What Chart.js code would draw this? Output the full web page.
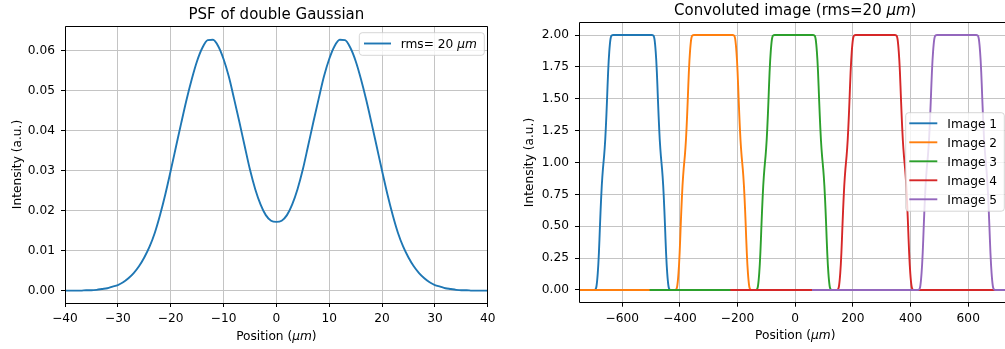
<!DOCTYPE html>
<html><head><meta charset="utf-8">
<script src="https://cdn.jsdelivr.net/npm/chart.js@4.4.1/dist/chart.umd.min.js"></script>
<style>
html,body{margin:0;padding:0;background:#fff;}
#wrap{position:relative;width:1005px;height:349px;overflow:hidden;background:#fff;}
canvas{position:absolute;top:0;}
#c1{left:0;} #c2{left:500px;}
</style></head><body>
<div id="wrap"><canvas id="c1" width="500" height="349"></canvas><canvas id="c2" width="515" height="349"></canvas></div>
<script>
// ---------- Left panel: PSF of double Gaussian ----------
const psfPosition = [-40,-39,-38,-37,-36,-35,-34,-33,-32,-31,-30,-29,-28,-27,-26,-25,-24,-23,-22,-21,-20,-19,-18,-17,-16,-15,-14,-13,-12,-11,-10,-9,-8,-7,-6,-5,-4,-3,-2,-1,0,1,2,3,4,5,6,7,8,9,10,11,12,13,14,15,16,17,18,19,20,21,22,23,24,25,26,27,28,29,30,31,32,33,34,35,36,37,38,39,40];
const psfIntensity = [0.0000,0.0000,0.0000,0.0000,0.0001,0.0001,0.0002,0.0004,0.0006,0.0010,
  0.0014,0.0021,0.0031,0.0044,0.0061,0.0083,0.0110,0.0145,0.0190,0.0242,
  0.0300,0.0360,0.0420,0.0478,0.0530,0.0575,0.0608,0.0627,0.0628,0.0612,
  0.0580,0.0536,0.0480,0.0422,0.0362,0.0303,0.0254,0.0216,0.0189,0.0175,
  0.0172,
  0.0175,0.0189,0.0216,0.0254,0.0303,0.0362,0.0422,0.0480,0.0536,0.0580,
  0.0612,0.0628,0.0627,0.0608,0.0575,0.0530,0.0478,0.0420,0.0360,0.0300,
  0.0242,0.0190,0.0145,0.0110,0.0083,0.0061,0.0044,0.0031,0.0021,0.0014,
  0.0010,0.0006,0.0004,0.0002,0.0001,0.0001,0.0000,0.0000,0.0000,0.0000];
const psfXTicks = [-40,-30,-20,-10,0,10,20,30,40];
const psfYTicks = [0,0.01,0.02,0.03,0.04,0.05,0.06];
const psfLabel = 'rms= 20 µm';

// ---------- Right panel: Convoluted image ----------
const imageNames = ['Image 1','Image 2','Image 3','Image 4','Image 5'];
const imageColors = ['#1f77b4','#ff7f0e','#2ca02c','#d62728','#9467bd'];
const riseEdges = [-665,-385,-105,176,458];     // position where each image crosses 1.0 going up
const fallEdges = [-464,-184,95,379,661];       // position where each image crosses 1.0 going down
const domainStarts = [-760,-760,-505,-225,58];  // first sample of each series
const domainEnds = [-58,220,500,785,760];       // last sample of each series
const edgeOffsets = [-34,-28,-26,-24,-22,-20,-18,-16,-14,-12,-10,-8,-6,-4,-2,0,2,4,6,8,10,12,14,16,18,20,22,24,26,28,34];
const edgeValues  = [0,0.005,0.013,0.035,0.075,0.13,0.20,0.29,0.40,0.52,0.63,0.73,0.82,0.89,0.95,1.00,1.05,1.11,1.18,1.27,1.37,1.48,1.60,1.71,1.80,1.87,1.925,1.965,1.987,1.995,2.0];
const convXTicks = [-600,-400,-200,0,200,400,600];
const convYTicks = [0,0.25,0.5,0.75,1.0,1.25,1.5,1.75,2.0];

// ---------- helpers ----------
const FONT = '"DejaVu Sans"';
const FS = 12.2;
Chart.defaults.font.family = FONT;
Chart.defaults.font.size = FS;
Chart.defaults.color = '#000';

function fmtInt(v){ return v < 0 ? '\u2212' + Math.abs(v) : String(v); }
function fmt2(v){ const s = Math.abs(v).toFixed(2); return v < -1e-9 ? '\u2212' + s : s; }

function drawRich(ctx, parts, x, y, size, align, rot){
  ctx.save();
  ctx.translate(x, y);
  if (rot) ctx.rotate(rot);
  ctx.textBaseline = 'alphabetic';
  ctx.textAlign = 'left';
  ctx.fillStyle = '#000';
  const fonts = parts.map(p => (p.it ? 'italic ' : '') + size + 'px ' + FONT);
  const widths = parts.map((p,i) => { ctx.font = fonts[i]; return ctx.measureText(p.t).width; });
  const total = widths.reduce((a,b)=>a+b,0);
  let cx = align === 'center' ? -total/2 : 0;
  parts.forEach((p,i) => { ctx.font = fonts[i]; ctx.fillText(p.t, cx, 0); cx += widths[i]; });
  ctx.restore();
}
function richParts(label){
  const i = label.indexOf('µm');
  if (i < 0) return [{t:label}];
  return [{t:label.slice(0,i)},{t:'µm',it:true},{t:label.slice(i+2)}].filter(p=>p.t.length);
}
function roundRect(ctx,x,y,w,h,r){
  ctx.beginPath();
  ctx.moveTo(x+r,y); ctx.lineTo(x+w-r,y); ctx.quadraticCurveTo(x+w,y,x+w,y+r);
  ctx.lineTo(x+w,y+h-r); ctx.quadraticCurveTo(x+w,y+h,x+w-r,y+h);
  ctx.lineTo(x+r,y+h); ctx.quadraticCurveTo(x,y+h,x,y+h-r);
  ctx.lineTo(x,y+r); ctx.quadraticCurveTo(x,y,x+r,y); ctx.closePath();
}
function drawSpines(chart){
  const {left,right,top,bottom} = chart.chartArea;
  const a = p => Math.round(p - 0.5) + 0.5;
  const c = chart.ctx;
  c.save();
  c.strokeStyle = '#000'; c.lineWidth = 1;
  c.beginPath();
  c.moveTo(a(left), a(top)); c.lineTo(a(right), a(top)); c.lineTo(a(right), a(bottom));
  c.lineTo(a(left), a(bottom)); c.closePath();
  c.stroke();
  c.restore();
}
function drawLegend(chart, box, lineX0, lineX1, textX, rowY0, rowStep){
  const c = chart.ctx;
  c.save();
  roundRect(c, box.x, box.y, box.w, box.h, 3);
  c.fillStyle = 'rgba(255,255,255,0.8)'; c.fill();
  c.strokeStyle = 'rgba(204,204,204,0.8)'; c.lineWidth = 1; c.stroke();
  chart.data.datasets.forEach((ds, i) => {
    const y = rowY0 + i*rowStep;
    c.strokeStyle = ds.borderColor; c.lineWidth = 1.9; c.lineCap = 'butt';
    c.beginPath(); c.moveTo(lineX0, y); c.lineTo(lineX1, y); c.stroke();
    drawRich(c, richParts(ds.label), textX, y + 4.4, FS, 'left');
  });
  c.restore();
}
const whiteBg = {
  id:'whiteBg',
  beforeDraw(chart){ const c = chart.ctx; c.save(); c.fillStyle = '#fff'; c.fillRect(0,0,chart.width,chart.height); c.restore(); }
};
function axisCfg(min, max, ticksArr, fmt, isX, fitSize){
  return {
    type:'linear', min, max,
    afterBuildTicks: s => { s.ticks = ticksArr.map(v => ({value:v})); },
    afterFit: s => { if (isX) s.height = fitSize; else s.width = fitSize; },
    ticks: { callback: v => fmt(v), padding: isX ? 4.5 : 6, color:'#000', autoSkip:false, maxRotation:0, font:{size:FS} },
    grid: { color:'#c4c4c4', lineWidth:1, drawTicks:true, tickLength:4, tickColor:'#000', tickWidth:1 },
    border: { display:false }
  };
}

// ---------- Chart 1 ----------
const psfPoints = psfPosition.map((x,i) => ({x, y: psfIntensity[i]}));
new Chart(document.getElementById('c1'), {
  type:'line',
  data:{ datasets:[{ label: psfLabel, data: psfPoints, borderColor:'#1f77b4', backgroundColor:'#1f77b4',
    borderWidth:1.9, pointRadius:0, cubicInterpolationMode:'monotone', borderJoinStyle:'round', fill:false }] },
  options:{
    responsive:false, animation:false, devicePixelRatio:1,
    layout:{ autoPadding:false, padding:{top:26, right:9.3, bottom:0, left:0} },
    plugins:{ legend:{display:false}, title:{display:false}, tooltip:{enabled:false} },
    scales:{
      x: axisCfg(-40, 40, psfXTicks, fmtInt, true, 46),
      y: axisCfg(-0.0031, 0.06625, psfYTicks, fmt2, false, 65)
    }
  },
  plugins:[whiteBg, {
    id:'psfDecor',
    afterDatasetsDraw(chart){ drawSpines(chart); },
    afterDraw(chart){
      const c = chart.ctx, ca = chart.chartArea;
      const cx = (ca.left + ca.right)/2, cy = (ca.top + ca.bottom)/2;
      drawRich(c, [{t:'PSF of double Gaussian'}], cx, 19, 15, 'center');
      drawRich(c, richParts('Position (µm)'), cx, 339.5, FS, 'center');
      drawRich(c, [{t:'Intensity (a.u.)'}], 21, cy, FS, 'center', -Math.PI/2);
      drawLegend(chart, {x:359.3, y:32.7, w:125, h:22.6}, 364, 391, 400.7, 43.5, 19);
    }
  }]
});

// ---------- Chart 2 ----------
const convDatasets = imageNames.map((name, i) => {
  const pts = [{x: domainStarts[i], y: 0}];
  edgeOffsets.forEach((d, k) => pts.push({x: riseEdges[i] + d, y: edgeValues[k]}));
  for (let k = edgeOffsets.length - 1; k >= 0; k--) pts.push({x: fallEdges[i] - edgeOffsets[k], y: edgeValues[k]});
  pts.push({x: domainEnds[i], y: 0});
  return { label: name, data: pts, borderColor: imageColors[i], backgroundColor: imageColors[i],
    borderWidth:1.9, pointRadius:0, cubicInterpolationMode:'monotone', borderJoinStyle:'round', fill:false,
    order: imageNames.length - i };
});
new Chart(document.getElementById('c2'), {
  type:'line',
  data:{ datasets: convDatasets },
  options:{
    responsive:false, animation:false, devicePixelRatio:1,
    layout:{ autoPadding:false, padding:{top:22.3, right:3.5, bottom:0, left:0} },
    plugins:{ legend:{display:false}, title:{display:false}, tooltip:{enabled:false} },
    scales:{
      x: axisCfg(-750, 750, convXTicks, fmtInt, true, 46.3),
      y: axisCfg(-0.1, 2.1, convYTicks, fmt2, false, 79)
    }
  },
  plugins:[whiteBg, {
    id:'convDecor',
    afterDatasetsDraw(chart){ drawSpines(chart); },
    afterDraw(chart){
      const c = chart.ctx, ca = chart.chartArea;
      const cx = (ca.left + ca.right)/2, cy = (ca.top + ca.bottom)/2;
      drawRich(c, richParts('Convoluted image (rms=20 µm)'), cx, 14.7, 15, 'center');
      drawRich(c, richParts('Position (µm)'), cx, 339.3, FS, 'center');
      drawRich(c, [{t:'Intensity (a.u.)'}], 33.3, cy, FS, 'center', -Math.PI/2);
      drawLegend(chart, {x:405.7, y:112.7, w:98.6, h:98.5}, 409.3, 437.3, 447.3, 123.3, 19);
    }
  }]
});
</script>
</body></html>
